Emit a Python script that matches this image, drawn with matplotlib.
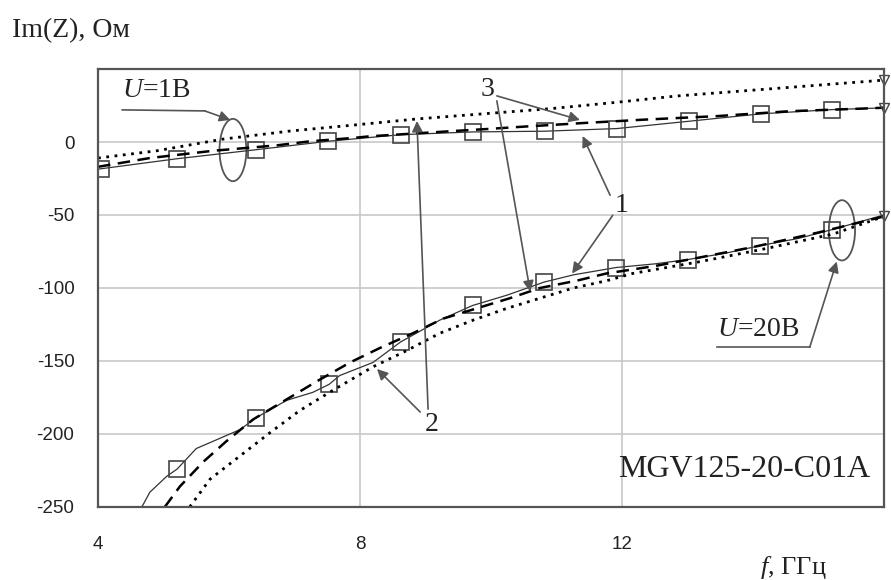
import matplotlib
matplotlib.use("Agg")
import matplotlib.pyplot as plt
from matplotlib.patches import Ellipse

# U = 1 V curves
up_solid_f = [4.0, 5.2, 6.41, 7.51, 8.62, 9.72, 10.82, 11.92, 13.02, 14.12, 15.21, 16.0]
up_solid_y = [-18.6, -11.5, -5.3, 0.5, 5.0, 6.9, 7.4, 9.2, 14.2, 19.3, 22.2, 23.4]
up_mark_f = [4.05, 5.2, 6.41, 7.51, 8.62, 9.72, 10.82, 11.92, 13.02, 14.12, 15.21]
up_mark_y = [-18.4, -11.5, -5.3, 0.5, 5.0, 6.9, 7.4, 9.2, 14.2, 19.3, 22.2]
up_dash_f = [4.0, 4.79, 5.76, 6.73, 7.24, 7.9, 8.15, 9.42, 9.98, 10.49, 11.41, 12.33, 13.44, 14.56, 15.68, 16.0]
up_dash_y = [-17, -11, -6, -2.3, 0.5, 2.8, 3.9, 7.5, 9.0, 10.5, 13, 15.3, 17.7, 21.1, 22.9, 23.5]
up_dot_f = [4.0, 4.9, 5.91, 6.93, 7.95, 8.87, 9.88, 10.9, 11.92, 12.83, 13.85, 14.87, 15.89, 16.0]
up_dot_y = [-11, -6, 2.0, 7.5, 11.8, 15.8, 19.3, 22.8, 27.2, 31.5, 35.0, 38.5, 42.0, 42.5]

# U = 20 V curves
lo_solid_f = [4.67, 4.79, 5.05, 5.21, 5.5, 5.81, 6.17, 6.41, 6.88, 7.28, 7.53, 7.69, 8.2, 8.62,
              9.22, 9.72, 10.24, 10.81, 11.26, 11.91, 12.5, 13.01, 13.6, 14.11, 14.7, 15.21, 16.0]
lo_solid_y = [-250, -240, -229, -224, -210, -204, -197, -189, -177, -171.5, -166, -160, -151, -137,
              -122, -112, -105, -96, -91, -86, -83.5, -80.5, -76, -71, -66, -60, -50]
lo_mark_f = [5.21, 6.41, 7.53, 8.62, 9.72, 10.81, 11.91, 13.01, 14.11, 15.21]
lo_mark_y = [-224, -189, -166, -137, -112, -96, -86, -80.5, -71, -60]
lo_dash_f = [5.02, 5.25, 5.61, 5.96, 6.37, 6.93, 7.34, 7.85, 8.31, 8.81, 9.27, 9.78, 10.29,
             10.75, 11.31, 11.77, 12.5, 13.2, 14.0, 15.0, 16.0]
lo_dash_y = [-250, -236, -219, -205, -190, -175, -164, -151, -141, -131, -121, -114, -107,
             -100, -95, -90, -85, -79, -72, -62, -51]
lo_dot_f = [5.40, 5.71, 6.17, 6.63, 7.08, 7.59, 8.2, 8.71, 9.22, 9.73, 10.24, 10.75, 11.26,
            11.77, 12.17, 13.19, 14.2, 15.23, 16.0]
lo_dot_y = [-250, -231, -215, -199, -184, -170, -154, -143, -131, -122, -114, -107, -100,
            -95, -90, -82, -73, -63, -51]

end_f = [16.0, 16.0, 16.0]
end_y = [42.5, 23.4, -51]

x_ticks = [4, 8, 12]
y_ticks = [-250, -200, -150, -100, -50, 0]

serif = "Liberation Serif"
plt.rcParams['font.family'] = "Liberation Sans"
plt.rcParams['axes.unicode_minus'] = False
plt.rcParams['mathtext.fontset'] = 'custom'
plt.rcParams['mathtext.rm'] = serif
plt.rcParams['mathtext.it'] = serif + ':italic'

fig = plt.figure(figsize=(8.91, 5.80), dpi=100)
ax = fig.add_axes([0.110, 0.126, 0.882, 0.755])

solid = dict(color='#333333', lw=0.9)
dash = dict(color='black', lw=1.8, linestyle=(0, (5, 3)))
dot = dict(color='black', lw=2.0, linestyle=(0, (1, 2)))
mark = dict(ls='none', marker='s', ms=11, mfc='none', mec='#444444', mew=1.2)

ax.plot(up_solid_f, up_solid_y, **solid)
ax.plot(up_mark_f, up_mark_y, **mark)
ax.plot(up_dash_f, up_dash_y, **dash)
ax.plot(up_dot_f, up_dot_y, **dot)
ax.plot(lo_solid_f, lo_solid_y, **solid)
ax.plot(lo_mark_f, lo_mark_y, **mark)
ax.plot(lo_dash_f, lo_dash_y, **dash)
ax.plot(lo_dot_f, lo_dot_y, **dot)
ax.plot(end_f, end_y, ls='none', marker='v', ms=7, mfc='none', mec='#444444', mew=1.0,
        clip_on=False)

ax.set_xlim(4, 16)
ax.set_ylim(-250, 50)
ax.set_xticks(x_ticks)
ax.set_yticks(y_ticks)
ax.tick_params(length=0, labelsize=13.5, colors='#222222')
ax.tick_params(axis='y', pad=17)
ax.tick_params(axis='x', pad=21)
ax.grid(True, color='#c8c8c8', lw=1.2)
ax.set_axisbelow(True)
for s in ax.spines.values():
    s.set_color('#555555')
    s.set_linewidth(1.6)

arrow = dict(arrowstyle='-|>', color='#555555', lw=1.2, mutation_scale=16,
             shrinkA=0, shrinkB=0)
line_c = '#555555'
tfont = dict(family=serif, fontsize=20, color='#222222')

# U=1B label
ax.text(4.37, 35, r'$\mathit{U}$=1В', va='center', ha='left', **tfont)
ax.plot([4.37, 5.63], [22, 21.3], color=line_c, lw=1.2, clip_on=False)
ax.annotate('', xy=(6.02, 15.1), xytext=(5.63, 21.3), arrowprops=arrow)
ax.add_patch(Ellipse((6.06, -5.5), 0.41, 42.7, fill=False, ec=line_c, lw=1.3))

# U=20B label
ax.text(13.45, -128.6, r'$\mathit{U}$=20В', va='center', ha='left', **tfont)
ax.plot([13.45, 14.87], [-140.3, -140.3], color=line_c, lw=1.2)
ax.annotate('', xy=(15.28, -81.9), xytext=(14.87, -140.3), arrowprops=arrow)
ax.add_patch(Ellipse((15.36, -60.5), 0.40, 41.3, fill=False, ec=line_c, lw=1.3))

# curve numbers
ax.text(9.94, 35.8, '3', ha='center', va='center', **tfont)
ax.annotate('', xy=(11.36, 15.1), xytext=(10.09, 31.6), arrowprops=arrow)
ax.annotate('', xy=(10.6, -102.5), xytext=(10.09, 28.2), arrowprops=arrow)

ax.text(12.0, -43.3, '1', ha='center', va='center', **tfont)
ax.annotate('', xy=(11.4, 4.1), xytext=(11.82, -36.5), arrowprops=arrow)
ax.annotate('', xy=(11.24, -90.1), xytext=(11.86, -50.2), arrowprops=arrow)

ax.text(9.1, -193.3, '2', ha='center', va='center', **tfont)
ax.annotate('', xy=(8.26, -155.5), xytext=(8.92, -185), arrowprops=arrow)
ax.annotate('', xy=(8.87, 14.4), xytext=(9.04, -183), arrowprops=arrow)

ax.text(15.79, -229.8, 'MGV125-20-C01A', ha='right', va='baseline',
        family=serif, fontsize=23, color='#222222')

fig.text(0.0135, 0.936, 'Im(Z), Ом', ha='left', va='baseline', family=serif,
         fontsize=20, color='#222222')
fig.text(0.853, 0.010, r'$\mathit{f}$, ГГц', ha='left', va='baseline',
         family=serif, fontsize=19, color='#222222')

fig.savefig('out.png', dpi=100)
